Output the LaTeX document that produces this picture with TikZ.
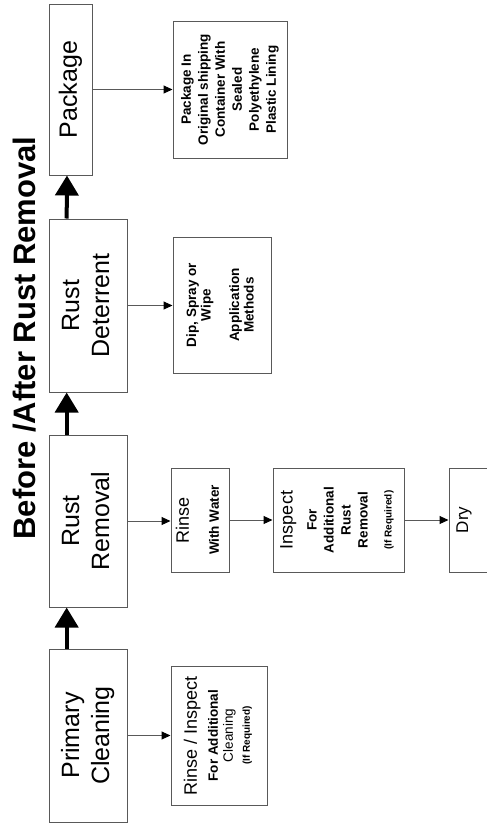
\documentclass[tikz,border=0pt]{standalone}
\usepackage{fontspec}
\setmainfont{Liberation Sans}
\usetikzlibrary{arrows.meta,calc}
\newcommand{\bigtxt}{\fontsize{25}{30}\selectfont}
\newcommand{\midtxt}{\fontsize{18}{21}\selectfont}
\newcommand{\smtxt}{\fontsize{13.5}{17}\selectfont\bfseries}
\newcommand{\tinytxt}{\fontsize{10}{12}\selectfont\bfseries}
\begin{document}
\begin{tikzpicture}[x=1pt,y=1pt,
  box/.style={draw=black!65, line width=1pt, inner sep=0pt, fill=white},
  thinarrow/.style={draw=black!65, line width=1pt, -{Triangle[length=9pt,width=8pt,color=black]}},
  thickarrow/.style={draw=black, line width=4pt, -{Triangle[length=20pt,width=23pt]}},
  titlestyle/.style={font=\fontsize{31}{36}\selectfont\bfseries, inner sep=0pt}]
\useasboundingbox (0,0) rectangle (487,-825);
\clip (0,0) rectangle (487,-825);

% title
\node[titlestyle, rotate=90, anchor=base] (title) at (35,-338) {Before /After Rust Removal};

% main column
\node[box, minimum width=43pt, minimum height=171pt] (pkg) at (70.5,-89.5)
  {\rotatebox{90}{\bigtxt Package}};
\node[box, minimum width=78pt, minimum height=173pt] (rd) at (88,-305.5)
  {\rotatebox{90}{\bigtxt\begin{tabular}{@{}c@{}}Rust\\Deterrent\end{tabular}}};
\node[box, minimum width=78pt, minimum height=172pt] (rr) at (88,-521)
  {\rotatebox{90}{\bigtxt\begin{tabular}{@{}c@{}}Rust\\Removal\end{tabular}}};
\node[box, minimum width=78pt, minimum height=173pt] (pc) at (88,-735.5)
  {\rotatebox{90}{\bigtxt\begin{tabular}{@{}c@{}}Primary\\Cleaning\end{tabular}}};

% side boxes
\node[box, minimum width=114pt, minimum height=137pt] (pkgin) at (230,-89.5)
  {\rotatebox{90}{\smtxt\begin{tabular}{@{}c@{}}Package In\\Original shipping\\Container With\\Sealed\\Polyethylene\\Plastic Lining\end{tabular}}};
\node[box, minimum width=98pt, minimum height=136pt] (dip) at (222,-305)
  {\rotatebox{90}{\fontsize{13.5}{14.5}\selectfont\bfseries\begin{tabular}{@{}c@{}}Dip, Spray or\\Wipe\\[14pt]Application\\Methods\end{tabular}}};
\node[box, minimum width=58pt, minimum height=104pt] (rinse) at (200,-520)
  {\rotatebox{90}{\smtxt\begin{tabular}{@{}c@{}}{\midtxt\mdseries Rinse}\\[13pt]With Water\end{tabular}}};
\node[box, minimum width=131pt, minimum height=104pt] (insp) at (338.5,-520)
  {\rotatebox{90}{\smtxt\begin{tabular}{@{}c@{}}{\midtxt\mdseries Inspect}\\[7pt]For\\Additional\\Rust\\Removal\\[7pt]{\tinytxt (If Required)}\end{tabular}}};
\node[box, minimum width=60pt, minimum height=104pt] (dry) at (479,-520)
  {\rotatebox{90}{\fontsize{17}{20}\selectfont Dry}\hspace*{30pt}};
\node[box, minimum width=96pt, minimum height=139pt] (ri) at (219,-735.5)
  {\rotatebox{90}{\fontsize{13.5}{15}\selectfont\begin{tabular}{@{}c@{}}{\midtxt Rinse / Inspect}\\[6pt]{\bfseries For Additional}\\Cleaning\\[2pt]{\tinytxt (If Required)}\end{tabular}}};

% thick flow arrows
\draw[thickarrow] ($(pc.north west)!0.23!(pc.north east)$) -- ($(rr.south west)!0.23!(rr.south east)$);
\draw[thickarrow] ($(rr.north west)!0.23!(rr.south east |- rr.north)$) -- ($(rd.south west)!0.23!(rd.south east)$);
\draw[thickarrow] ($(rd.north west)!0.23!(rd.north east)$) -- ($(pkg.south west)!0.42!(pkg.south east)$);

% thin arrows
\draw[thinarrow] (pkg.east) -- (pkg.east -| pkgin.west);
\draw[thinarrow] (rd.east) -- (rd.east -| dip.west);
\draw[thinarrow] (rr.east) -- (rr.east -| rinse.west);
\draw[thinarrow] (rinse.east) -- (insp.west);
\draw[thinarrow] (insp.east) -- (dry.west);
\draw[thinarrow] (pc.east) -- (pc.east -| ri.west);
\end{tikzpicture}
\end{document}
